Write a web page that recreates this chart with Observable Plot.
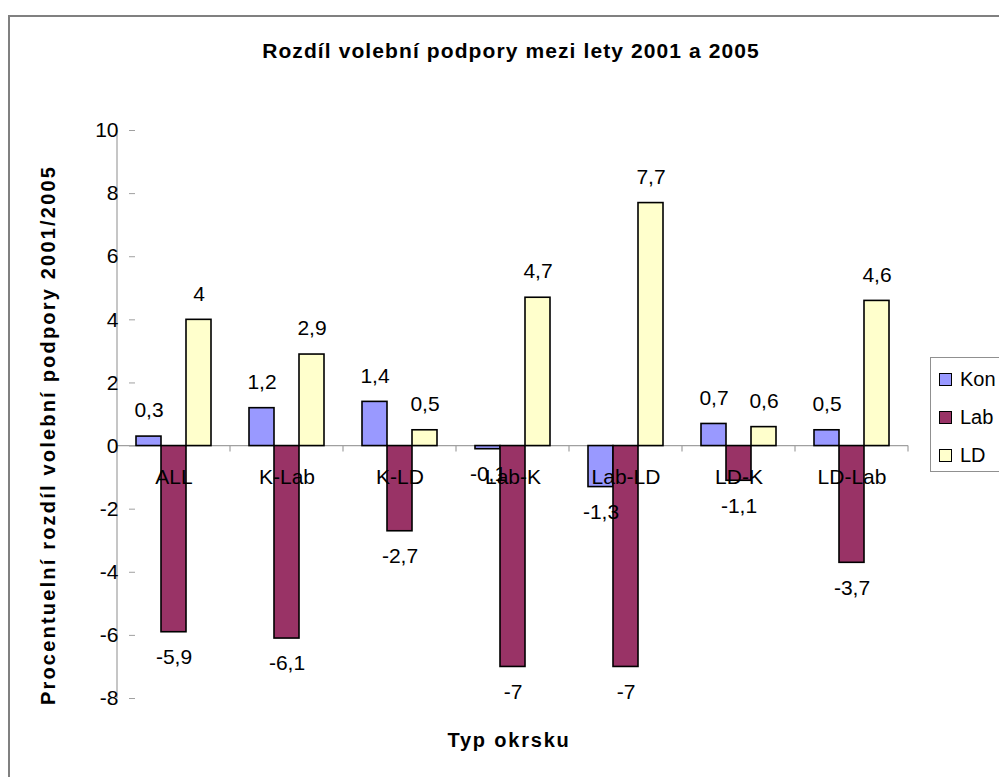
<!DOCTYPE html>
<html>
<head>
<meta charset="utf-8">
<script src="https://cdn.jsdelivr.net/npm/d3@7"></script>
<script src="https://cdn.jsdelivr.net/npm/@observablehq/plot@0.6"></script>
<style>
  body { margin: 0; background: #fff; font-family: "Liberation Sans", Arial, sans-serif; }
  #wrap { position: relative; width: 999px; height: 777px; overflow: hidden; background: #fff; }
  #border { position: absolute; left: 8px; top: 15px; width: 1200px; height: 1000px;
            border-top: 2px solid #808080; border-left: 2px solid #808080; }
  #chart { position: absolute; left: 0; top: 0; }
  #title { position: absolute; left: 0; top: 40px; width: 1022px; text-align: center;
           font-weight: bold; font-size: 21px; line-height: 21px; letter-spacing: 1.1px; color: #000; }
  #xlabel { position: absolute; left: 0; top: 730px; width: 1018px; text-align: center;
            font-weight: bold; font-size: 20px; line-height: 20px; letter-spacing: 1.8px; color: #000; }
  #ylabel { position: absolute; left: 48px; top: 435px; white-space: nowrap;
            font-weight: bold; font-size: 20px; line-height: 20px; letter-spacing: 2.2px; color: #000;
            transform: translate(-50%, -50%) rotate(-90deg); }
  #legend { position: absolute; left: 930px; top: 357px; width: 110px; height: 113px;
            border: 1px solid #909090; background: #fff; }
  .item { position: absolute; left: 8px; height: 20px; font-size: 20px; line-height: 20px; color: #000; }
  .sw { position: absolute; left: 0; top: 4px; width: 11px; height: 11px; border: 1.5px solid #000; }
  .lt { position: absolute; left: 21px; top: 0; }
</style>
</head>
<body>
<div id="wrap">
  <div id="border"></div>
  <div id="chart"></div>
  <div id="title"></div>
  <div id="xlabel"></div>
  <div id="ylabel"></div>
  <div id="legend"></div>
</div>
<script>
// ---- data ----
const titleText = "Rozdíl volební podpory mezi lety 2001 a 2005";
const xTitle = "Typ okrsku";
const yTitle = "Procentuelní rozdíl volební podpory 2001/2005";
const categories = ["ALL", "K-Lab", "K-LD", "Lab-K", "Lab-LD", "LD-K", "LD-Lab"];
const series = ["Kon", "Lab", "LD"];
const kon = [0.3, 1.2, 1.4, -0.1, -1.3, 0.7, 0.5];
const lab = [-5.9, -6.1, -2.7, -7, -7, -1.1, -3.7];
const ld  = [4, 2.9, 0.5, 4.7, 7.7, 0.6, 4.6];
const colors = ["#9999FF", "#993366", "#FFFFCC"];
const yTicks = [-8, -6, -4, -2, 0, 2, 4, 6, 8, 10];

// ---- build table ----
const seriesValues = [kon, lab, ld];
const rows = categories.flatMap((c, i) =>
  series.map((s, j) => ({cat: c, s, v: seriesValues[j][i]})));
const fmt = v => String(v).replace(".", ",");

const W = 999, H = 777, mL = 117, mR = 91, mT = 130, mB = 79;

const plot = Plot.plot({
  width: W, height: H,
  marginTop: mT, marginBottom: mB, marginLeft: mL, marginRight: mR,
  style: {fontFamily: "'Liberation Sans', Arial, sans-serif", fontSize: "21px", color: "#000", background: "transparent", overflow: "visible"},
  fx: {domain: categories, paddingInner: 0.32, paddingOuter: 0.16, axis: null, label: null},
  x: {domain: series, padding: 0, axis: null},
  y: {domain: [-8, 10], label: null},
  color: {domain: series, range: colors},
  marks: [
    Plot.axisY({ticks: yTicks, tickSize: 6, tickPadding: 11, stroke: "#a0a0a0", fill: "#000",
                tickFormat: d => String(d), label: null, fontSize: 21}),
    Plot.barY(rows, {fx: "cat", x: "s", y: "v", fill: "s", stroke: "#000", strokeWidth: 1.6}),
    Plot.text(categories, {fx: d => d, y: 0, text: d => d, dy: 31, fontSize: 21, fill: "#000"}),
    Plot.text(rows.filter(d => d.v >= 0), {fx: "cat", x: "s", y: "v", text: d => fmt(d.v), dy: -26, fontSize: 21, fill: "#000"}),
    Plot.text(rows.filter(d => d.v < 0), {fx: "cat", x: "s", y: "v", text: d => fmt(d.v), dy: 25, fontSize: 21, fill: "#000"})
  ]
});

// axis lines (Excel style) from the library's scales
const svg = d3.select(plot);
const y = plot.scale("y");
const fx = plot.scale("fx");
const y0 = y.apply(0);
const step = fx.step;
const left = mL, right = W - mR;
const g = svg.append("g").attr("stroke", "#a0a0a0").attr("stroke-width", 1.2);
g.append("line").attr("x1", left).attr("x2", left).attr("y1", y.apply(10)).attr("y2", y.apply(-8));
g.append("line").attr("x1", left).attr("x2", right).attr("y1", y0).attr("y2", y0);
d3.range(categories.length + 1).forEach(k => {
  const x = left + k * step;
  g.append("line").attr("x1", x).attr("x2", x).attr("y1", y0).attr("y2", y0 + 6);
});
g.lower();

document.getElementById("chart").appendChild(plot);
document.getElementById("title").textContent = titleText;
document.getElementById("xlabel").textContent = xTitle;
document.getElementById("ylabel").textContent = yTitle;

const legend = document.getElementById("legend");
series.forEach((s, i) => {
  const it = document.createElement("div");
  it.className = "item";
  it.style.top = (11 + i * 38) + "px";
  const sw = document.createElement("div");
  sw.className = "sw";
  sw.style.background = colors[i];
  const t = document.createElement("div");
  t.className = "lt";
  t.textContent = s;
  it.appendChild(sw); it.appendChild(t);
  legend.appendChild(it);
});
</script>
</body>
</html>
